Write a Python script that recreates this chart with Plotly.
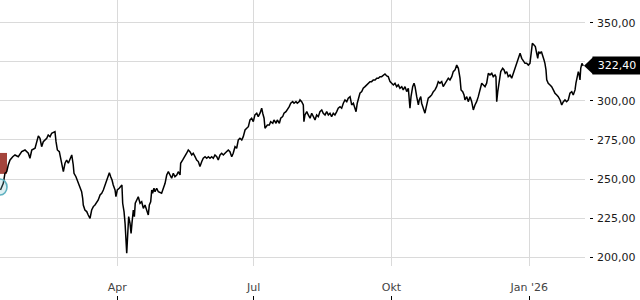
import pandas as pd
import plotly.graph_objects as go

# ---- data ----
start_date = "2025-01-13"
day_offsets = [
    0, 0.4, 1.9, 3.0, 4.2, 5.2, 6.4, 8.2, 9.7, 11.9, 14.2, 16.4, 18.6, 19.7, 20.9, 23.1,
    24.2, 25.3, 26.4, 27.5, 28.6, 29.7, 30.9, 31.9, 33.1, 34.2, 36.4, 37.1, 38.0, 39.3,
    40.2, 41.1, 42.0, 43.1, 44.2, 45.3, 46.4, 47.6, 48.6, 49.1, 50.4, 51.6, 52.6, 54.2,
    54.9, 55.3, 56.4, 57.6, 58.6, 59.8, 60.9, 62.0, 63.1, 64.3, 65.3, 66.5, 67.6, 68.7,
    69.8, 70.9, 72.0, 72.7, 73.6, 74.5, 75.3, 76.5, 77.1, 78.0, 79.3, 80.3, 81.1, 81.6,
    82.5, 83.2, 83.8, 84.3, 85.0, 85.6, 86.5, 87.2, 87.8, 88.7, 89.4, 90.0, 91.0, 92.0,
    93.2, 94.3, 95.4, 96.5, 97.6, 98.7, 99.4, 100.3, 101.0, 101.6, 102.5, 103.2, 104.3,
    105.4,
    107.6, 108.7, 109.9, 111.0, 112.1, 113.2, 114.3, 115.4, 116.5, 117.7, 118.7, 119.9,
    120.3, 121.7, 123.2, 124.3, 125.4, 126.5, 127.7, 128.7, 129.9, 131.0, 132.1, 133.2,
    134.4, 135.4, 136.6, 137.7, 138.8, 139.9, 141.0, 142.1, 143.2, 144.4, 145.4, 146.6,
    147.7, 148.8, 149.9, 151.0, 152.1, 153.2, 154.4, 155.4, 156.6, 157.7, 158.8, 159.9,
    161.1, 162.1, 163.3, 164.4, 165.5, 166.6, 167.7, 168.8, 169.9, 171.1, 172.1, 173.3,
    174.4, 175.1, 176.0, 176.6, 177.3, 178.2, 179.5, 180.4, 181.8, 182.6, 184.0, 184.8,
    186.2, 187.1, 188.4, 189.3, 190.6, 191.5, 192.8, 193.8, 195.1, 196.0, 197.3, 198.2,
    199.5,
    200.0, 201.1, 202.2, 202.6, 203.3, 204.5, 205.5, 206.7, 207.8, 208.9, 210.0, 211.1,
    212.2, 213.3, 214.5, 215.5, 216.7, 217.8, 218.9, 220.0, 221.1, 222.2, 223.3, 224.5,
    225.5, 226.7, 227.8, 228.9, 230.0, 231.2, 232.2, 233.4, 234.5, 235.6, 236.7, 237.4,
    238.2, 238.9, 240.0, 241.2, 242.2, 243.4, 244.5, 245.6, 246.7, 247.8, 248.9, 250.1,
    251.2, 252.3, 253.4, 254.5, 255.6, 256.7, 257.9, 258.9, 260.1, 261.2, 262.3, 263.4,
    264.5, 265.6, 266.7, 267.9, 268.9, 270.1, 271.2, 272.3, 273.4, 274.1, 275.2, 276.1,
    276.8, 277.9, 279.0, 279.6, 280.6, 281.2, 282.3, 283.4, 284.1, 285.0, 285.6, 286.8,
    287.9, 289.0, 290.1, 291.2, 292.3, 293.4, 294.6, 295.6, 296.8, 297.9, 299.0,
    300.1, 301.3, 302.3, 303.5, 304.6, 305.7, 306.8, 307.5, 308.6, 309.5, 310.1, 311.3,
    312.3, 313.5, 314.6, 315.7, 316.8, 317.9, 319.0, 320.1, 321.3, 322.4, 323.5, 324.6,
    325.7, 326.8, 328.0, 329.0, 330.2, 330.8, 331.3, 332.0, 333.0, 334.0, 335.3, 336.2,
    337.0, 338.0, 339.0, 340.2, 341.3, 342.4, 343.5, 344.6, 345.7, 346.9, 348.0, 349.1,
    350.2, 351.3, 352.4, 353.5, 354.2, 355.1, 356.2, 357.1, 358.0, 358.7, 359.3, 360.2,
    361.1, 362.0, 362.9, 363.5, 364.2, 364.7, 365.7, 366.9, 368.0, 369.1, 370.2, 371.4,
    372.4, 373.6, 374.7, 375.8, 376.9, 378.0, 379.1, 380.2, 381.4, 382.4, 383.6, 384.2,
    385.1, 385.8, 386.4, 386.9, 387.4, 388.2, 389.1,
]
prices = [
    243.0, 244.1, 247.3, 253.7, 254.7, 259.0, 262.2, 264.3, 265.4, 264.3, 267.5, 268.6,
    266.5, 263.3, 268.6, 269.7, 272.9, 277.6, 276.1, 270.7, 273.9, 275.0, 276.1, 278.2,
    277.1, 279.3, 280.3, 273.9, 268.6, 267.5, 263.3, 260.1, 254.7, 260.1, 262.2, 260.1,
    263.3, 265.4, 259.0, 253.7, 251.5, 248.3, 246.2, 241.9, 237.7, 233.4, 230.2, 229.2,
    227.0, 224.9, 230.2, 232.4, 233.4, 235.5, 236.6, 239.8, 240.9, 243.0, 246.2, 249.4,
    252.6, 254.1, 251.5, 249.4, 246.2, 243.0, 238.7, 243.0, 244.1, 245.1, 246.2, 234.5,
    229.2, 221.7, 213.2, 202.6, 215.3, 226.0, 221.7, 215.3, 221.7, 230.2, 226.0, 234.5,
    236.6, 238.7, 234.5, 235.5, 231.3, 233.4, 230.2, 227.0, 233.4, 235.5, 243.0, 240.9,
    244.1, 241.9, 244.1, 241.9,
    240.9, 244.1, 247.3, 252.6, 254.7, 252.6, 250.5, 253.7, 251.5, 252.6, 254.7, 252.6,
    260.1, 262.2, 264.3, 266.5, 268.6, 267.5, 265.4, 266.5, 264.3, 262.2, 261.2, 258.0,
    261.2, 263.3, 264.3, 263.3, 264.3, 263.3, 264.3, 263.3, 265.4, 264.3, 262.2, 265.4,
    266.5, 265.4, 266.5, 267.5, 268.6, 267.5, 264.3, 266.5, 270.7, 269.7, 275.0, 276.1,
    275.0, 277.1, 281.4, 282.5, 283.5, 287.8, 288.9, 286.7, 291.0, 292.1, 289.9, 292.1,
    295.3, 292.1, 288.9, 282.5, 283.5, 284.6, 284.6, 286.7, 285.7, 287.8, 285.7, 287.8,
    285.7, 288.9, 289.9, 292.1, 293.1, 294.2, 296.3, 298.5, 299.5, 298.5, 299.5, 298.5,
    299.5,
    300.6, 299.5, 297.4, 286.7, 291.0, 293.1, 291.0, 288.9, 292.1, 289.9, 287.8, 291.0,
    289.9, 293.1, 294.2, 292.1, 291.0, 293.1, 291.0, 292.1, 289.9, 292.1, 291.0, 293.1,
    295.3, 296.3, 295.3, 298.5, 300.6, 299.5, 301.7, 302.7, 297.4, 298.5, 295.3, 293.1,
    298.5, 300.6, 304.9, 305.9, 308.1, 309.1, 310.2, 311.3, 312.3, 312.3, 313.4, 313.4,
    314.5, 314.5, 315.5, 315.5, 316.6, 317.2, 315.9, 315.5, 312.3, 311.3, 310.2, 311.3,
    309.1, 310.2, 308.1, 309.1, 307.0, 309.1, 305.9, 308.1, 295.3, 302.7, 309.1, 311.3,
    309.1, 302.7, 297.4, 300.6, 302.7, 298.5, 295.3, 292.1, 295.3, 298.5, 301.7, 302.7,
    303.8, 305.9, 307.0, 309.1, 312.3, 311.3, 312.3, 309.1, 311.3, 312.3, 314.5,
    313.4, 315.5, 318.7, 319.8, 322.9, 320.8, 314.5, 307.0, 305.9, 303.8, 300.6, 302.7,
    299.5, 302.7, 299.5, 294.2, 297.4, 299.5, 302.7, 307.0, 311.3, 310.2, 309.1, 311.3,
    317.6, 316.6, 317.6, 315.5, 316.6, 315.5, 299.5, 305.9, 313.4, 318.7, 320.8, 319.8,
    317.6, 318.7, 315.5, 316.6, 314.5, 317.6, 320.8, 324.0, 327.2, 330.4, 327.2, 325.1,
    324.0, 324.0, 322.9, 324.0, 330.4, 336.8, 335.7, 334.7, 330.4, 327.2, 331.5, 330.4,
    331.5, 329.4, 326.1, 324.0, 319.8, 313.4, 311.3, 310.2, 309.1, 307.0, 304.9, 303.8,
    302.7, 300.6, 297.4, 299.5, 300.6, 299.5, 300.6, 304.9, 305.9, 303.8, 307.0, 311.3,
    315.5, 318.7, 316.6, 313.4, 320.8, 324.0, 322.4,
]

tick_dates = ["2025-04-01", "2025-07-01", "2025-10-01", "2026-01-01"]
tick_labels = ["Apr", "Jul", "Okt", "Jan '26"]
y_ticks = [200, 225, 250, 275, 300, 325, 350]
x_range = ["2025-01-12 16:48", "2026-02-07 06:00"]
y_range = [194.4, 364.5]

# event markers at the left edge
event_box_low, event_box_high = 253.3, 266.7
event_circle_value = 244.9

dates = pd.Timestamp(start_date) + pd.to_timedelta(day_offsets, unit="D")

FONT = "DejaVu Sans"
x_dom_end = 585 / 593

fig = go.Figure()
fig.add_trace(go.Scatter(
    x=dates, y=prices, mode="lines",
    line=dict(color="#000000", width=1.5),
    hoverinfo="skip", showlegend=False,
))

# event markers
fig.add_shape(type="rect", xref="paper", xsizemode="pixel", xanchor=0, x0=-7, x1=7,
              yref="y", y0=event_box_low, y1=event_box_high,
              fillcolor="#a4443c", line=dict(width=0), layer="between")
fig.add_shape(type="circle", xref="paper", xsizemode="pixel", xanchor=0, x0=-7, x1=7,
              yref="y", ysizemode="pixel", yanchor=event_circle_value, y0=-8, y1=8,
              fillcolor="rgba(120,190,205,0.25)", line=dict(color="#5fb1c0", width=1.6),
              layer="above")

# last price label
last_text = f"{prices[-1]:.2f}".replace(".", ",")
fig.add_shape(type="path", xref="paper", xsizemode="pixel", xanchor=x_dom_end,
              yref="y", ysizemode="pixel", yanchor=prices[-1],
              path="M -1,0 L 8,8.5 L 8,-8.5 Z",
              fillcolor="#000000", line=dict(width=0), layer="above")
fig.add_annotation(
    xref="paper", x=x_dom_end, xanchor="left", xshift=7,
    yref="y", y=prices[-1], yanchor="middle",
    text=last_text, showarrow=False,
    font=dict(family=FONT, size=11, color="#ffffff"),
    bgcolor="#000000", borderpad=2, width=44, height=13, align="center",
)

fig.update_layout(
    width=640, height=300,
    margin=dict(l=0, r=47, t=0, b=0),
    paper_bgcolor="#ffffff", plot_bgcolor="#ffffff",
    separators=",.",
    font=dict(family=FONT, size=11, color="#1a1a1a"),
    showlegend=False,
    xaxis=dict(
        type="date", range=x_range, domain=[0, x_dom_end],
        anchor="free", position=0,
        tickvals=tick_dates, ticktext=tick_labels,
        showgrid=True, gridcolor="#dadada", gridwidth=1,
        ticks="inside", ticklen=4, tickcolor="#000000", tickwidth=1,
        ticklabelposition="inside", ticklabelstandoff=2,
        showline=False, zeroline=False,
    ),
    yaxis=dict(
        range=y_range, domain=[34 / 300, 1],
        side="right", anchor="free", position=1,
        tickvals=y_ticks, tickformat=".2f",
        showgrid=True, gridcolor="#dadada", gridwidth=1,
        ticks="inside", ticklen=3, tickcolor="#000000", tickwidth=1,
        ticklabelstandoff=3,
        showline=False, zeroline=False,
    ),
)

fig.write_html("out.html", config={"displayModeBar": False})
